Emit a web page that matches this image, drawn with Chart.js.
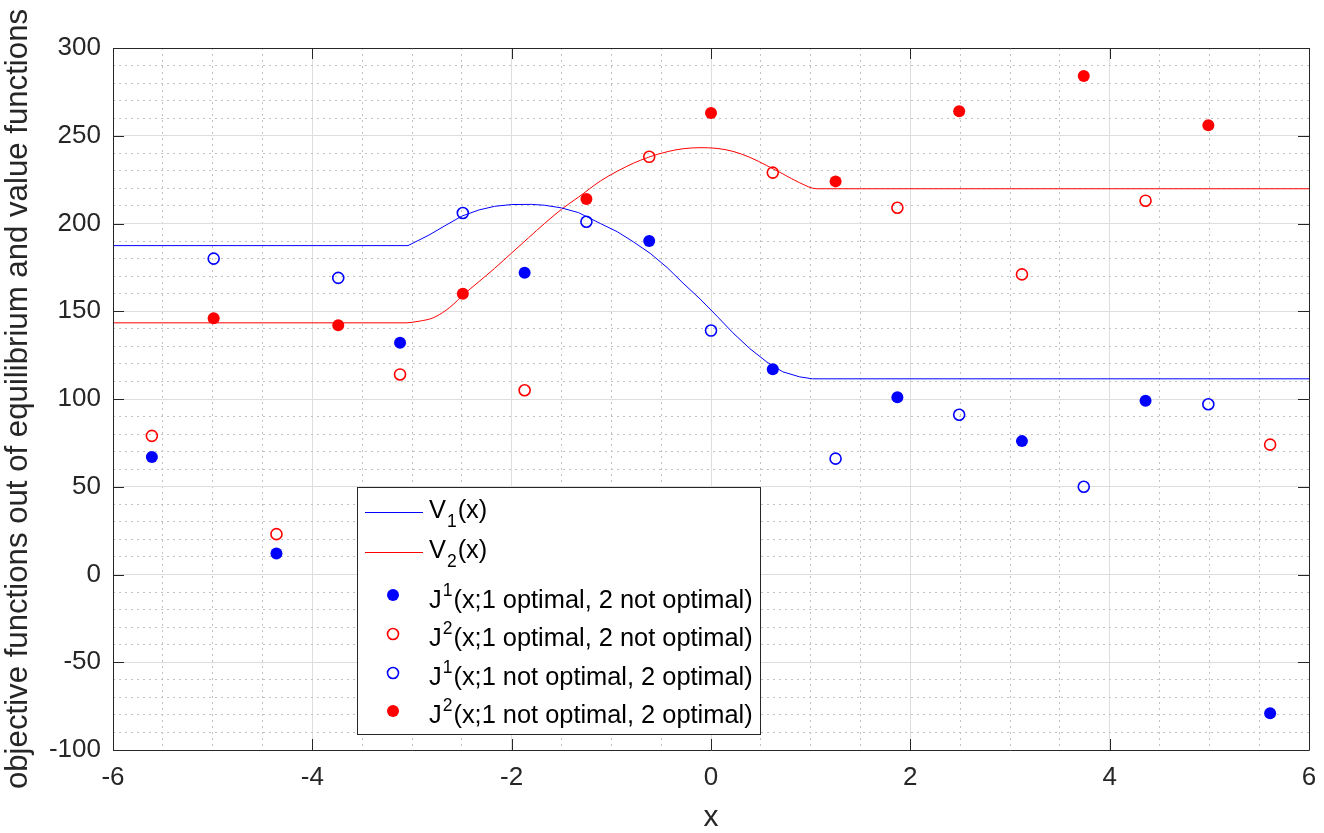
<!DOCTYPE html>
<html>
<head>
<meta charset="utf-8">
<title>objective functions and value functions</title>
<script src="https://cdn.jsdelivr.net/npm/chart.js@4/dist/chart.umd.min.js"></script>
<style>
  html, body { margin: 0; padding: 0; background: #fff; }
  #wrap { width: 1324px; height: 833px; position: relative; }
</style>
</head>
<body>
<div id="wrap"><canvas id="objChart"></canvas></div>
<script>
// axis ticks (major ones carry labels, minor ones only a dotted grid line)
const xTicks = [-6, -4, -2, 0, 2, 4, 6];
const yTicks = [-100, -50, 0, 50, 100, 150, 200, 250, 300];
const xMinorStep = 0.5;
const yMinorStep = 10;

// value functions
const v1X = [-6, -3.04, -2.83, -2.67, -2.5, -2.33, -2.17, -2.0, -1.8, -1.67, -1.5, -1.33, -1.11, -0.94, -0.78, -0.61, -0.44, -0.28, -0.11, 0.06, 0.22, 0.39, 0.56, 0.72, 0.89, 1.02, 6];
const v1Y = [187.4, 187.4, 193.4, 198.7, 204.2, 207.7, 209.8, 210.8, 210.9, 210.4, 208.9, 206.2, 200, 195.3, 189.6, 183, 174.9, 166, 157, 147.2, 137.7, 128.7, 121.1, 115.5, 112.6, 111.5, 111.5];
const v2X = [-6, -3.06, -3.0, -2.93, -2.79, -2.66, -2.58, -2.5, -2.33, -2.17, -2.0, -1.83, -1.67, -1.5, -1.33, -1.11, -0.94, -0.78, -0.63, -0.44, -0.28, -0.11, 0.06, 0.22, 0.39, 0.56, 0.72, 0.89, 1.06, 6];
const v2Y = [143.4, 143.4, 143.7, 144.3, 146.2, 150.5, 154.2, 158.6, 166.8, 174.5, 183.2, 191.9, 200, 208.1, 215, 224.2, 229.8, 234.3, 237.7, 240.9, 242.6, 243.2, 242.8, 241.1, 237.7, 233, 228.3, 223.2, 219.8, 219.8];

// objective functions out of equilibrium
const xA = [-5.61, -4.36, -3.12, -1.87, -0.62, 0.62, 1.87, 3.12, 4.36, 5.61];
const xB = [-4.99, -3.74, -2.49, -1.25, 0, 1.25, 2.49, 3.74, 4.99];
const j1A = [67, 12, 132, 172, 190, 117, 101, 76, 99, -79];   // J1, 1 optimal
const j2A = [79, 23, 114, 105, 238, 229, 209, 171, 213, 74];  // J2, 1 optimal
const j1B = [180, 169, 206, 201, 139, 66, 91, 50, 97];        // J1, 2 optimal
const j2B = [146, 142, 160, 214, 263, 224, 264, 284, 256];    // J2, 2 optimal

// legend text: base, script, script kind, rest
const legendText = [
  ['V', '1', 'sub', '(x)'],
  ['V', '2', 'sub', '(x)'],
  ['J', '1', 'sup', '(x;1 optimal, 2 not optimal)'],
  ['J', '2', 'sup', '(x;1 optimal, 2 not optimal)'],
  ['J', '1', 'sup', '(x;1 not optimal, 2 optimal)'],
  ['J', '2', 'sup', '(x;1 not optimal, 2 optimal)'],
];

const FONT = 'Helvetica, Arial, "Liberation Sans", sans-serif';
const INK = '#262626';
const BLUE = '#0000ff';
const RED = '#ff0000';

const pts = (xs, ys) => xs.map((x, i) => ({ x: x, y: ys[i] }));
const near = (v, list) => list.some(t => Math.abs(t - v) < 1e-6);

function minorTicks(lo, hi, step) {
  const out = [];
  const n = Math.round((hi - lo) / step);
  for (let i = 0; i <= n; i++) out.push({ value: +(lo + i * step).toFixed(4) });
  return out;
}

// box round the axes, inward ticks on all four sides, and the legend
const matlabAxes = {
  id: 'matlabAxes',
  afterDatasetsDraw(chart) {
    const { ctx, chartArea: a, scales } = chart;
    const sx = scales.x, sy = scales.y;
    const tl = 11;
    ctx.save();
    ctx.strokeStyle = INK;
    ctx.lineWidth = 1;
    ctx.beginPath();
    ctx.rect(Math.round(a.left) + 0.5, Math.round(a.top) + 0.5,
             Math.round(a.right - a.left), Math.round(a.bottom - a.top));
    xTicks.forEach(v => {
      const p = Math.round(sx.getPixelForValue(v)) + 0.5;
      ctx.moveTo(p, a.bottom); ctx.lineTo(p, a.bottom - tl);
      ctx.moveTo(p, a.top); ctx.lineTo(p, a.top + tl);
    });
    yTicks.forEach(v => {
      const p = Math.round(sy.getPixelForValue(v)) + 0.5;
      ctx.moveTo(a.left, p); ctx.lineTo(a.left + tl, p);
      ctx.moveTo(a.right, p); ctx.lineTo(a.right - tl, p);
    });
    ctx.stroke();

    // legend
    const L = a.left + 244, T = a.top + 439, W = 403, H = 247;
    ctx.fillStyle = '#fff';
    ctx.fillRect(L, T, W, H);
    ctx.strokeStyle = INK;
    ctx.strokeRect(L + 0.5, T + 0.5, W, H);
    const rowMid = [25, 65, 108, 147, 186, 224];
    const rowBase = [31, 71, 121, 159, 198, 236];
    chart.data.datasets.forEach((ds, i) => {
      const cy = T + rowMid[i];
      if (ds.showLine) {
        ctx.strokeStyle = ds.borderColor;
        ctx.lineWidth = 1;
        ctx.beginPath();
        ctx.moveTo(L + 8, Math.round(cy) + 0.5);
        ctx.lineTo(L + 66, Math.round(cy) + 0.5);
        ctx.stroke();
      } else {
        ctx.beginPath();
        ctx.arc(L + 36, cy, ds.pointRadius, 0, Math.PI * 2);
        if (ds.pointBackgroundColor !== 'transparent') {
          ctx.fillStyle = ds.pointBackgroundColor;
          ctx.fill();
        } else {
          ctx.strokeStyle = ds.pointBorderColor;
          ctx.lineWidth = ds.pointBorderWidth;
          ctx.stroke();
        }
      }
      const [base, script, kind, rest] = legendText[i];
      const by = T + rowBase[i];
      let tx = L + 72;
      ctx.fillStyle = '#000';
      ctx.textBaseline = 'alphabetic';
      ctx.textAlign = 'left';
      ctx.font = '25.4px ' + FONT;
      ctx.fillText(base, tx, by);
      tx += ctx.measureText(base).width + 1;
      ctx.font = '17.5px ' + FONT;
      ctx.fillText(script, tx, kind === 'sub' ? by + 9 : by - 12);
      tx += ctx.measureText(script).width + 1;
      ctx.font = '25.4px ' + FONT;
      ctx.fillText(rest, tx, by);
    });
    ctx.restore();
  }
};

const gridColor = (list) => (c) =>
  (c.tick && near(c.tick.value, list)) ? '#dedede' : '#c2c2c2';
const gridDash = (list) => (c) =>
  (c.tick && !near(c.tick.value, list)) ? [2, 4] : [];

const ctx = document.getElementById('objChart').getContext('2d');
new Chart(ctx, {
  type: 'scatter',
  data: {
    datasets: [
      {
        label: 'V1(x)',
        data: pts(v1X, v1Y),
        showLine: true,
        borderColor: BLUE,
        borderWidth: 1,
        pointRadius: 0,
        tension: 0,
        order: 2,
      },
      {
        label: 'V2(x)',
        data: pts(v2X, v2Y),
        showLine: true,
        borderColor: RED,
        borderWidth: 1,
        pointRadius: 0,
        cubicInterpolationMode: 'monotone',
        order: 2,
      },
      {
        label: 'J1(x;1 optimal, 2 not optimal)',
        data: pts(xA, j1A),
        pointRadius: 6,
        pointBackgroundColor: BLUE,
        pointBorderColor: BLUE,
        pointBorderWidth: 0,
        order: 1,
      },
      {
        label: 'J2(x;1 optimal, 2 not optimal)',
        data: pts(xA, j2A),
        pointRadius: 5.5,
        pointBackgroundColor: 'transparent',
        pointBorderColor: RED,
        pointBorderWidth: 1.6,
        order: 1,
      },
      {
        label: 'J1(x;1 not optimal, 2 optimal)',
        data: pts(xB, j1B),
        pointRadius: 5.5,
        pointBackgroundColor: 'transparent',
        pointBorderColor: BLUE,
        pointBorderWidth: 1.6,
        order: 1,
      },
      {
        label: 'J2(x;1 not optimal, 2 optimal)',
        data: pts(xB, j2B),
        pointRadius: 6,
        pointBackgroundColor: RED,
        pointBorderColor: RED,
        pointBorderWidth: 0,
        order: 1,
      },
    ],
  },
  options: {
    responsive: true,
    maintainAspectRatio: false,
    animation: false,
    layout: { padding: { top: 48, right: 15, left: 0, bottom: 0 } },
    plugins: {
      legend: { display: false },
      tooltip: { enabled: false },
    },
    scales: {
      x: {
        type: 'linear',
        min: xTicks[0],
        max: xTicks[xTicks.length - 1],
        afterBuildTicks: (s) => { s.ticks = minorTicks(s.min, s.max, xMinorStep); },
        afterFit: (s) => { s.height = 83; s.paddingLeft = 0; s.paddingRight = 0; },
        ticks: {
          autoSkip: false,
          maxRotation: 0,
          padding: 12,
          color: INK,
          font: { family: FONT, size: 26 },
          callback: (v) => near(v, xTicks) ? String(Math.round(v)) : '',
        },
        grid: { color: gridColor(xTicks), lineWidth: 1, drawTicks: false },
        border: { display: false, dash: gridDash(xTicks) },
        title: {
          display: true,
          text: 'x',
          color: INK,
          font: { family: FONT, size: 30, lineHeight: 1.0 },
          padding: { top: 0, bottom: 0 },
        },
      },
      y: {
        type: 'linear',
        min: yTicks[0],
        max: yTicks[yTicks.length - 1],
        afterBuildTicks: (s) => { s.ticks = minorTicks(s.min, s.max, yMinorStep); },
        afterFit: (s) => { s.width = 113; s.paddingTop = 0; s.paddingBottom = 0; },
        ticks: {
          autoSkip: false,
          padding: 12,
          color: INK,
          font: { family: FONT, size: 26 },
          callback: (v) => near(v, yTicks) ? String(Math.round(v)) : '',
        },
        grid: { color: gridColor(yTicks), lineWidth: 1, drawTicks: false },
        border: { display: false, dash: gridDash(yTicks) },
        title: {
          display: true,
          text: 'objective functions out of equilibrium and value functions',
          color: INK,
          font: { family: FONT, size: 31.2 },
          padding: { top: 0, bottom: 0 },
        },
      },
    },
  },
  plugins: [matlabAxes],
});
</script>
</body>
</html>
